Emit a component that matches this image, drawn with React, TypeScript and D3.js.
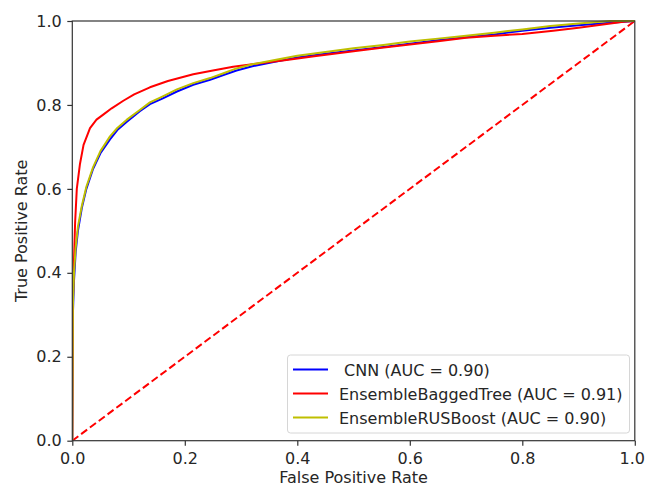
import { useRef, useEffect } from 'react';
import * as d3 from 'd3';

// ROC curves: [false positive rate, true positive rate]
var CNN_FPR = [0, 0.001, 0.003, 0.006, 0.01, 0.017, 0.025, 0.037, 0.05, 0.067, 0.08, 0.097, 0.12, 0.138, 0.16, 0.186, 0.215, 0.245, 0.27, 0.292, 0.32, 0.36, 0.4, 0.45, 0.5, 0.553, 0.6, 0.65, 0.7, 0.75, 0.8, 0.85, 0.9, 0.95, 0.98, 1];
var CNN_TPR = [0, 0.3, 0.38, 0.45, 0.5, 0.555, 0.6, 0.648, 0.685, 0.718, 0.74, 0.76, 0.785, 0.802, 0.815, 0.832, 0.848, 0.86, 0.872, 0.882, 0.892, 0.903, 0.913, 0.922, 0.93, 0.938, 0.946, 0.954, 0.961, 0.968, 0.977, 0.984, 0.99, 0.995, 0.998, 1];

var EBT_FPR = [0, 0.001, 0.003, 0.005, 0.008, 0.0137, 0.02, 0.0315, 0.043, 0.055, 0.07, 0.0907, 0.11, 0.138, 0.17, 0.215, 0.25, 0.286, 0.33, 0.381, 0.43, 0.5, 0.55, 0.6, 0.65, 0.7, 0.75, 0.8, 0.855, 0.9, 0.95, 0.98, 1];
var EBT_TPR = [0, 0.33, 0.43, 0.52, 0.6, 0.66, 0.705, 0.745, 0.765, 0.777, 0.792, 0.81, 0.825, 0.842, 0.857, 0.873, 0.882, 0.891, 0.899, 0.907, 0.916, 0.928, 0.936, 0.944, 0.952, 0.96, 0.965, 0.969, 0.977, 0.984, 0.993, 0.998, 1];

var RUS_FPR = [0, 0.001, 0.003, 0.006, 0.01, 0.017, 0.025, 0.037, 0.05, 0.067, 0.08, 0.097, 0.12, 0.138, 0.16, 0.186, 0.215, 0.245, 0.27, 0.292, 0.32, 0.36, 0.4, 0.45, 0.5, 0.553, 0.6, 0.65, 0.7, 0.75, 0.8, 0.85, 0.9, 0.956, 1];
var RUS_TPR = [0, 0.32, 0.4, 0.46, 0.51, 0.56, 0.605, 0.652, 0.69, 0.725, 0.745, 0.765, 0.788, 0.806, 0.82, 0.837, 0.852, 0.864, 0.876, 0.887, 0.897, 0.907, 0.917, 0.926, 0.935, 0.943, 0.951, 0.958, 0.965, 0.972, 0.98, 0.988, 0.994, 1, 1];

var SERIES = [
  { label: ' CNN (AUC = 0.90)', color: '#0000ff', fpr: CNN_FPR, tpr: CNN_TPR },
  { label: 'EnsembleBaggedTree (AUC = 0.91)', color: '#ff0000', fpr: EBT_FPR, tpr: EBT_TPR },
  { label: 'EnsembleRUSBoost (AUC = 0.90)', color: '#bfbf00', fpr: RUS_FPR, tpr: RUS_TPR }
];

var TICKS = [0, 0.2, 0.4, 0.6, 0.8, 1.0];

var W = 646;
var H = 486;
var FONT = 'DejaVu Sans, sans-serif';
var FS = 16;

export default function App() {
  var svgRef = useRef(null);

  useEffect(function () {
    var svg = d3.select(svgRef.current);
    svg.selectAll('*').remove();

    var left = 72.3, right = 634.8, top = 21, bottom = 440.7;
    var x = d3.scaleLinear().domain([0, 1]).range([left, right]);
    var y = d3.scaleLinear().domain([0, 1]).range([bottom, top]);

    svg.append('rect').attr('width', W).attr('height', H).attr('fill', '#fff');

    var clip = svg.append('clipPath').attr('id', 'plotclip');
    clip.append('rect').attr('x', left).attr('y', top - 2).attr('width', right - left + 2).attr('height', bottom - top + 2);

    var plot = svg.append('g').attr('clip-path', 'url(#plotclip)');

    // chance diagonal
    plot.append('line')
      .attr('x1', x(0)).attr('y1', y(0))
      .attr('x2', x(1)).attr('y2', y(1))
      .attr('stroke', '#ff0000')
      .attr('stroke-width', 2)
      .attr('stroke-dasharray', '7.5,3.5');

    var line = d3.line()
      .x(function (d) { return x(d[0]); })
      .y(function (d) { return y(d[1]); });

    SERIES.forEach(function (s) {
      var pts = s.fpr.map(function (f, i) { return [f, s.tpr[i]]; });
      plot.append('path')
        .attr('d', line(pts))
        .attr('fill', 'none')
        .attr('stroke', s.color)
        .attr('stroke-width', 2)
        .attr('stroke-linejoin', 'round');
    });

    // axes
    var xAxis = svg.append('g')
      .attr('transform', 'translate(0,' + bottom + ')')
      .call(d3.axisBottom(x).tickValues(TICKS).tickFormat(d3.format('.1f')).tickSize(5).tickSizeOuter(0).tickPadding(7));
    var yAxis = svg.append('g')
      .attr('transform', 'translate(' + left + ',0)')
      .call(d3.axisLeft(y).tickValues(TICKS).tickFormat(d3.format('.1f')).tickSize(5).tickSizeOuter(0).tickPadding(5.5));

    [xAxis, yAxis].forEach(function (a) {
      a.select('.domain').remove();
      a.selectAll('line').attr('stroke', '#333').attr('stroke-width', 1.2);
      a.selectAll('text').attr('font-family', FONT).attr('font-size', FS).attr('fill', '#262626');
    });

    // keep the last x label inside the window
    xAxis.selectAll('.tick:last-of-type text').attr('dx', -3);

    svg.append('rect')
      .attr('x', left).attr('y', top)
      .attr('width', right - left).attr('height', bottom - top)
      .attr('fill', 'none')
      .attr('stroke', '#333')
      .attr('stroke-width', 1.2);

    svg.append('text')
      .attr('x', (left + right) / 2)
      .attr('y', 483)
      .attr('text-anchor', 'middle')
      .attr('font-family', FONT).attr('font-size', FS).attr('fill', '#262626')
      .text('False Positive Rate');

    svg.append('text')
      .attr('transform', 'translate(27,' + ((top + bottom) / 2) + ') rotate(-90)')
      .attr('text-anchor', 'middle')
      .attr('font-family', FONT).attr('font-size', FS).attr('fill', '#262626')
      .text('True Positive Rate');

    // legend
    var lg = svg.append('g');
    lg.append('rect')
      .attr('x', 287.5).attr('y', 355)
      .attr('width', 342).attr('height', 78)
      .attr('rx', 3)
      .attr('fill', '#fff').attr('fill-opacity', 0.8)
      .attr('stroke', '#d6d6d6');
    SERIES.forEach(function (s, i) {
      var cy = 369.5 + i * 24;
      lg.append('line')
        .attr('x1', 293).attr('x2', 328)
        .attr('y1', cy).attr('y2', cy)
        .attr('stroke', s.color).attr('stroke-width', 2);
      lg.append('text')
        .attr('x', 339).attr('y', cy + 6)
        .attr('font-family', FONT).attr('font-size', FS).attr('fill', '#262626')
        .style('white-space', 'pre')
        .text(s.label);
    });
  }, []);

  return (
    <svg ref={svgRef} width={W} height={H} style={{ position: 'absolute', left: 0, top: 0 }} />
  );
}
